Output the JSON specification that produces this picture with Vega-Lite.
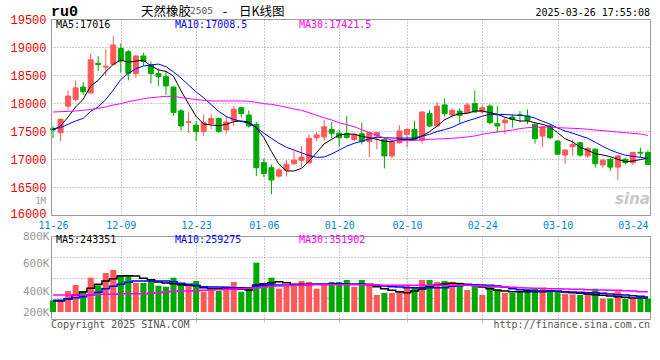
{
"$schema": "https://vega.github.io/schema/vega-lite/v6.json",
"background": "white",
"padding": {"left": 9, "top": 3, "right": 6, "bottom": 2},
"bounds": "flush",
"spacing": 21,
"config": {"view": {"stroke": "#999999", "strokeWidth": 1}, "text": {"font": "DejaVu Sans Mono"}, "axis": {"labelOverlap": false}, "axisY": {"labelOverlap": false}, "axisQuantitative": {"labelOverlap": false}},
"data": {"values": [
{"d":"11-26","o":17540,"h":17590,"l":17370,"c":17520,"v":204000,"m5":17518,"m10":17542,"m30":17839,"v5":191000,"v10":203000,"v30":296000},
{"d":"11-27","o":17470,"h":17725,"l":17320,"c":17710,"v":191000,"m5":17589,"m10":17560,"m30":17845,"v5":191000,"v10":203000,"v30":296000},
{"d":"11-28","o":17945,"h":18225,"l":17870,"c":18125,"v":365000,"m5":17750,"m10":17619,"m30":17851,"v5":232000,"v10":226000,"v30":296000},
{"d":"11-29","o":18065,"h":18405,"l":18025,"c":18270,"v":470000,"m5":17929,"m10":17679,"m30":17857,"v5":290000,"v10":249000,"v30":296000},
{"d":"12-02","o":18285,"h":18375,"l":18145,"c":18200,"v":365000,"m5":18066,"m10":17726,"m30":17869,"v5":348000,"v10":267000,"v30":296000},
{"d":"12-03","o":18180,"h":18880,"l":18165,"c":18770,"v":597000,"m5":18304,"m10":17850,"m30":17887,"v5":412000,"v10":302000,"v30":296000},
{"d":"12-04","o":18710,"h":18840,"l":18570,"c":18685,"v":465000,"m5":18405,"m10":17930,"m30":17905,"v5":481000,"v10":342000,"v30":307000},
{"d":"12-05","o":18640,"h":18960,"l":18495,"c":18655,"v":679000,"m5":18560,"m10":18060,"m30":17929,"v5":539000,"v10":406000,"v30":307000},
{"d":"12-06","o":18690,"h":19195,"l":18675,"c":19035,"v":731000,"m5":18690,"m10":18230,"m30":17964,"v5":580000,"v10":447000,"v30":307000},
{"d":"12-09","o":18975,"h":19060,"l":18540,"c":18750,"v":644000,"m5":18770,"m10":18420,"m30":17988,"v5":626000,"v10":481000,"v30":319000},
{"d":"12-10","o":18915,"h":18945,"l":18405,"c":18530,"v":644000,"m5":18725,"m10":18530,"m30":18024,"v5":632000,"v10":516000,"v30":319000},
{"d":"12-11","o":18525,"h":18855,"l":18450,"c":18840,"v":505000,"m5":18750,"m10":18610,"m30":18048,"v5":626000,"v10":539000,"v30":319000},
{"d":"12-12","o":18840,"h":18900,"l":18660,"c":18740,"v":505000,"m5":18762,"m10":18660,"m30":18077,"v5":586000,"v10":539000,"v30":319000},
{"d":"12-13","o":18675,"h":18740,"l":18345,"c":18525,"v":552000,"m5":18665,"m10":18680,"m30":18095,"v5":563000,"v10":539000,"v30":325000},
{"d":"12-16","o":18525,"h":18620,"l":18305,"c":18470,"v":458000,"m5":18590,"m10":18695,"m30":18107,"v5":522000,"v10":539000,"v30":336000},
{"d":"12-17","o":18470,"h":18570,"l":18145,"c":18305,"v":440000,"m5":18565,"m10":18650,"m30":18119,"v5":505000,"v10":539000,"v30":348000},
{"d":"12-18","o":18285,"h":18300,"l":17770,"c":17830,"v":597000,"m5":18480,"m10":18555,"m30":18119,"v5":493000,"v10":528000,"v30":360000},
{"d":"12-19","o":17860,"h":17890,"l":17510,"c":17590,"v":482000,"m5":18215,"m10":18445,"m30":18095,"v5":476000,"v10":499000,"v30":365000},
{"d":"12-20","o":17655,"h":17830,"l":17470,"c":17665,"v":482000,"m5":17985,"m10":18320,"m30":18080,"v5":464000,"v10":481000,"v30":365000},
{"d":"12-23","o":17605,"h":17680,"l":17320,"c":17490,"v":539000,"m5":17760,"m10":18198,"m30":18060,"v5":458000,"v10":464000,"v30":371000},
{"d":"12-24","o":17490,"h":17800,"l":17410,"c":17650,"v":353000,"m5":17625,"m10":18095,"m30":18048,"v5":423000,"v10":441000,"v30":377000},
{"d":"12-25","o":17630,"h":17800,"l":17530,"c":17725,"v":412000,"m5":17607,"m10":17970,"m30":18036,"v5":406000,"v10":435000,"v30":383000},
{"d":"12-26","o":17725,"h":17740,"l":17470,"c":17490,"v":365000,"m5":17595,"m10":17850,"m30":18036,"v5":406000,"v10":435000,"v30":389000},
{"d":"12-27","o":17520,"h":17770,"l":17450,"c":17660,"v":440000,"m5":17619,"m10":17760,"m30":18036,"v5":412000,"v10":429000,"v30":394000},
{"d":"12-30","o":17680,"h":17945,"l":17590,"c":17890,"v":522000,"m5":17666,"m10":17705,"m30":18036,"v5":406000,"v10":423000,"v30":400000},
{"d":"12-31","o":17915,"h":17930,"l":17740,"c":17810,"v":353000,"m5":17679,"m10":17672,"m30":18036,"v5":394000,"v10":423000,"v30":406000},
{"d":"01-02","o":17785,"h":17870,"l":17560,"c":17590,"v":395000,"m5":17660,"m10":17635,"m30":18030,"v5":383000,"v10":423000,"v30":412000},
{"d":"01-03","o":17620,"h":17660,"l":16695,"c":16845,"v":858000,"m5":17559,"m10":17560,"m30":18012,"v5":470000,"v10":452000,"v30":423000},
{"d":"01-06","o":16935,"h":17010,"l":16680,"c":16740,"v":499000,"m5":17381,"m10":17460,"m30":17988,"v5":493000,"v10":464000,"v30":435000},
{"d":"01-07","o":16845,"h":16905,"l":16370,"c":16625,"v":597000,"m5":17135,"m10":17370,"m30":17976,"v5":510000,"v10":470000,"v30":447000},
{"d":"01-08","o":16695,"h":16845,"l":16665,"c":16805,"v":405000,"m5":16905,"m10":17280,"m30":17952,"v5":528000,"v10":470000,"v30":452000},
{"d":"01-09","o":16800,"h":16980,"l":16685,"c":16905,"v":482000,"m5":16786,"m10":17210,"m30":17923,"v5":510000,"v10":464000,"v30":458000},
{"d":"01-10","o":16915,"h":17145,"l":16895,"c":16980,"v":482000,"m5":16786,"m10":17160,"m30":17893,"v5":481000,"v10":464000,"v30":464000},
{"d":"01-13","o":16975,"h":17230,"l":16845,"c":17035,"v":539000,"m5":16833,"m10":17110,"m30":17869,"v5":481000,"v10":470000,"v30":470000},
{"d":"01-14","o":16935,"h":17440,"l":16905,"c":17370,"v":522000,"m5":16964,"m10":17060,"m30":17827,"v5":481000,"v10":476000,"v30":476000},
{"d":"01-15","o":17380,"h":17480,"l":17320,"c":17430,"v":405000,"m5":17113,"m10":17030,"m30":17780,"v5":481000,"v10":481000,"v30":476000},
{"d":"01-16","o":17395,"h":17695,"l":17320,"c":17575,"v":482000,"m5":17270,"m10":17035,"m30":17738,"v5":481000,"v10":481000,"v30":476000},
{"d":"01-17","o":17530,"h":17660,"l":17370,"c":17460,"v":522000,"m5":17351,"m10":17090,"m30":17696,"v5":481000,"v10":487000,"v30":476000},
{"d":"01-20","o":17460,"h":17520,"l":17220,"c":17380,"v":522000,"m5":17429,"m10":17160,"m30":17648,"v5":481000,"v10":493000,"v30":476000},
{"d":"01-21","o":17450,"h":17770,"l":17360,"c":17385,"v":557000,"m5":17449,"m10":17230,"m30":17613,"v5":481000,"v10":481000,"v30":476000},
{"d":"01-22","o":17350,"h":17460,"l":17320,"c":17440,"v":435000,"m5":17441,"m10":17280,"m30":17577,"v5":481000,"v10":481000,"v30":476000},
{"d":"01-23","o":17450,"h":17650,"l":17260,"c":17310,"v":557000,"m5":17405,"m10":17320,"m30":17524,"v5":481000,"v10":481000,"v30":476000},
{"d":"01-24","o":17310,"h":17480,"l":17035,"c":17470,"v":481000,"m5":17381,"m10":17360,"m30":17470,"v5":481000,"v10":476000,"v30":476000},
{"d":"01-27","o":17410,"h":17480,"l":17175,"c":17470,"v":296000,"m5":17351,"m10":17390,"m30":17423,"v5":441000,"v10":464000,"v30":470000},
{"d":"02-05","o":17350,"h":17380,"l":16830,"c":17055,"v":331000,"m5":17315,"m10":17380,"m30":17375,"v5":406000,"v10":452000,"v30":464000},
{"d":"02-06","o":17055,"h":17335,"l":17010,"c":17310,"v":331000,"m5":17315,"m10":17375,"m30":17339,"v5":377000,"v10":441000,"v30":464000},
{"d":"02-07","o":17290,"h":17600,"l":17275,"c":17500,"v":365000,"m5":17345,"m10":17372,"m30":17327,"v5":354000,"v10":435000,"v30":464000},
{"d":"02-10","o":17440,"h":17540,"l":17205,"c":17530,"v":452000,"m5":17351,"m10":17375,"m30":17327,"v5":336000,"v10":423000,"v30":464000},
{"d":"02-11","o":17530,"h":17680,"l":17335,"c":17350,"v":423000,"m5":17351,"m10":17375,"m30":17333,"v5":365000,"v10":423000,"v30":464000},
{"d":"02-12","o":17340,"h":17845,"l":17275,"c":17840,"v":557000,"m5":17411,"m10":17410,"m30":17339,"v5":400000,"v10":423000,"v30":464000},
{"d":"02-13","o":17810,"h":17875,"l":17570,"c":17590,"v":557000,"m5":17488,"m10":17440,"m30":17351,"v5":441000,"v10":423000,"v30":464000},
{"d":"02-14","o":17590,"h":18020,"l":17570,"c":17945,"v":522000,"m5":17589,"m10":17490,"m30":17357,"v5":470000,"v10":423000,"v30":464000},
{"d":"02-17","o":17965,"h":18085,"l":17755,"c":17810,"v":539000,"m5":17700,"m10":17525,"m30":17363,"v5":487000,"v10":423000,"v30":464000},
{"d":"02-18","o":17785,"h":17905,"l":17740,"c":17870,"v":522000,"m5":17768,"m10":17565,"m30":17369,"v5":499000,"v10":447000,"v30":464000},
{"d":"02-19","o":17855,"h":17905,"l":17620,"c":17780,"v":510000,"m5":17810,"m10":17630,"m30":17381,"v5":493000,"v10":458000,"v30":464000},
{"d":"02-20","o":17825,"h":18005,"l":17810,"c":17965,"v":383000,"m5":17815,"m10":17680,"m30":17393,"v5":481000,"v10":464000,"v30":464000},
{"d":"02-21","o":17990,"h":18225,"l":17825,"c":17840,"v":481000,"m5":17857,"m10":17720,"m30":17411,"v5":464000,"v10":476000,"v30":458000},
{"d":"02-24","o":17840,"h":17960,"l":17810,"c":17915,"v":296000,"m5":17857,"m10":17765,"m30":17441,"v5":435000,"v10":470000,"v30":452000},
{"d":"02-25","o":17945,"h":17975,"l":17620,"c":17650,"v":464000,"m5":17827,"m10":17800,"m30":17464,"v5":406000,"v10":464000,"v30":447000},
{"d":"02-26","o":17630,"h":17945,"l":17480,"c":17590,"v":394000,"m5":17800,"m10":17790,"m30":17482,"v5":377000,"v10":452000,"v30":435000},
{"d":"02-27","o":17645,"h":17735,"l":17440,"c":17695,"v":331000,"m5":17745,"m10":17795,"m30":17497,"v5":365000,"v10":429000,"v30":435000},
{"d":"02-28","o":17750,"h":17800,"l":17560,"c":17710,"v":331000,"m5":17708,"m10":17785,"m30":17518,"v5":354000,"v10":406000,"v30":429000},
{"d":"03-03","o":17790,"h":17855,"l":17650,"c":17780,"v":365000,"m5":17679,"m10":17780,"m30":17542,"v5":354000,"v10":389000,"v30":423000},
{"d":"03-04","o":17770,"h":17885,"l":17620,"c":17690,"v":394000,"m5":17679,"m10":17765,"m30":17559,"v5":354000,"v10":377000,"v30":418000},
{"d":"03-05","o":17620,"h":17630,"l":17275,"c":17365,"v":406000,"m5":17648,"m10":17730,"m30":17565,"v5":354000,"v10":365000,"v30":412000},
{"d":"03-06","o":17410,"h":17590,"l":17215,"c":17570,"v":406000,"m5":17619,"m10":17672,"m30":17571,"v5":354000,"v10":365000,"v30":412000},
{"d":"03-07","o":17590,"h":17620,"l":17350,"c":17380,"v":365000,"m5":17575,"m10":17625,"m30":17571,"v5":365000,"v10":365000,"v30":406000},
{"d":"03-10","o":17320,"h":17335,"l":17080,"c":17085,"v":365000,"m5":17470,"m10":17555,"m30":17559,"v5":360000,"v10":360000,"v30":406000},
{"d":"03-11","o":17070,"h":17175,"l":16915,"c":17160,"v":319000,"m5":17360,"m10":17500,"m30":17554,"v5":348000,"v10":354000,"v30":400000},
{"d":"03-12","o":17220,"h":17350,"l":17055,"c":17260,"v":307000,"m5":17305,"m10":17462,"m30":17548,"v5":336000,"v10":348000,"v30":394000},
{"d":"03-13","o":17290,"h":17300,"l":17040,"c":17070,"v":296000,"m5":17210,"m10":17415,"m30":17542,"v5":325000,"v10":342000,"v30":394000},
{"d":"03-14","o":17055,"h":17215,"l":17025,"c":17190,"v":319000,"m5":17155,"m10":17370,"m30":17530,"v5":313000,"v10":336000,"v30":389000},
{"d":"03-17","o":17175,"h":17190,"l":16845,"c":16915,"v":406000,"m5":17095,"m10":17300,"m30":17518,"v5":302000,"v10":336000,"v30":383000},
{"d":"03-18","o":16895,"h":16995,"l":16845,"c":16980,"v":235000,"m5":17071,"m10":17225,"m30":17506,"v5":290000,"v10":325000,"v30":383000},
{"d":"03-19","o":16995,"h":17025,"l":16785,"c":16855,"v":235000,"m5":17042,"m10":17160,"m30":17494,"v5":278000,"v10":313000,"v30":377000},
{"d":"03-20","o":16855,"h":17060,"l":16625,"c":17055,"v":360000,"m5":16994,"m10":17110,"m30":17482,"v5":267000,"v10":302000,"v30":377000},
{"d":"03-21","o":16995,"h":17025,"l":16905,"c":16935,"v":230000,"m5":16952,"m10":17068,"m30":17470,"v5":255000,"v10":296000,"v30":371000},
{"d":"03-24","o":16935,"h":17120,"l":16895,"c":17115,"v":230000,"m5":16964,"m10":17048,"m30":17458,"v5":244000,"v10":284000,"v30":365000},
{"d":"03-25","o":17120,"h":17205,"l":17025,"c":17105,"v":230000,"m5":16990,"m10":17030,"m30":17446,"v5":244000,"v10":273000,"v30":354000},
{"d":"03-26","o":17115,"h":17155,"l":16895,"c":16905,"v":230000,"m5":17016,"m10":17008.5,"m30":17421.5,"v5":243351,"v10":259275,"v30":351902}
]},
"vconcat": [
{
"width": 599, "height": 196,
"encoding": {"x": {"field": "d", "type": "ordinal", "sort": null, "title": null,
  "scale": {"type": "point", "padding": 0.27, "domain": ["11-26","11-27","11-28","11-29","12-02","12-03","12-04","12-05","12-06","12-09","12-10","12-11","12-12","12-13","12-16","12-17","12-18","12-19","12-20","12-23","12-24","12-25","12-26","12-27","12-30","12-31","01-02","01-03","01-06","01-07","01-08","01-09","01-10","01-13","01-14","01-15","01-16","01-17","01-20","01-21","01-22","01-23","01-24","01-27","02-05","02-06","02-07","02-10","02-11","02-12","02-13","02-14","02-17","02-18","02-19","02-20","02-21","02-24","02-25","02-26","02-27","02-28","03-03","03-04","03-05","03-06","03-07","03-10","03-11","03-12","03-13","03-14","03-17","03-18","03-19","03-20","03-21","03-24","03-25","03-26"]},
  "axis": {"values": ["11-26","12-09","12-23","01-06","01-20","02-10","02-24","03-10","03-24"], "grid": true, "gridColor": "#999999", "gridDash": [1,2],
    "gridOpacity": {"condition": {"test": "datum.value === '11-26' || datum.value === '03-24'", "value": 0}, "value": 1},
    "domain": false, "ticks": false, "labelAngle": 0, "labelColor": "#0088CC", "labelFont": "DejaVu Sans Mono", "labelFontSize": 10, "labelPadding": 5, "labelOverlap": false, "title": null}}},
"layer": [
 {"mark": {"type": "rule", "strokeWidth": 1},
  "encoding": {"y": {"field": "l", "type": "quantitative", "title": null, "scale": {"domain": [16000, 19500], "zero": false, "nice": false},
     "axis": {"values": [16000,16500,17000,17500,18000,18500,19000,19500], "tickCount": 8, "format": "d", "labelOverlap": false, "grid": true, "gridColor": "#999999", "gridDash": [1,2], "domain": false, "ticks": false, "labelColor": "#EE0000", "labelFont": "Liberation Mono", "labelFontSize": 12, "labelPadding": 5, "title": null,
       "labelOffset": {"condition": {"test": "datum.value === 16000", "value": -2}, "value": 0}}},
   "y2": {"field": "h"},
   "color": {"condition": {"test": "datum.c > datum.o", "value": "#FF5858"}, "value": "#00A800"}}},
 {"mark": {"type": "bar", "width": 5, "strokeWidth": 1},
  "encoding": {"y": {"field": "o", "type": "quantitative", "title": null, "scale": {"domain": [16000, 19500], "zero": false, "nice": false}},
   "y2": {"field": "c"},
   "color": {"condition": {"test": "datum.c > datum.o", "value": "#FF5858"}, "value": "#00A800"},
   "stroke": {"condition": {"test": "datum.c > datum.o", "value": "#FF5858"}, "value": "#00A800"}}},
 {"mark": {"type": "line", "color": "#000000", "strokeWidth": 1},
  "encoding": {"y": {"field": "m5", "type": "quantitative", "title": null, "scale": {"domain": [16000, 19500], "zero": false, "nice": false}}}},
 {"mark": {"type": "line", "color": "#0000FF", "strokeWidth": 1},
  "encoding": {"y": {"field": "m10", "type": "quantitative", "title": null, "scale": {"domain": [16000, 19500], "zero": false, "nice": false}}}},
 {"mark": {"type": "line", "color": "#FF00FF", "strokeWidth": 1},
  "encoding": {"y": {"field": "m30", "type": "quantitative", "title": null, "scale": {"domain": [16000, 19500], "zero": false, "nice": false}}}},
 {"data": {"values": [{"t": "ru0"}]},
  "mark": {"type": "text", "align": "left", "baseline": "alphabetic", "font": "Liberation Mono", "fontSize": 15, "fontWeight": "bold", "color": "#000000", "dx": -2},
  "encoding": {"x": {"datum": "11-26", "type": "ordinal"}, "y": {"datum": 19560, "type": "quantitative", "scale": {"domain": [16000, 19500], "zero": false, "nice": false}}, "text": {"field": "t"}}},
 {"data": {"values": [{"t": "天然橡胶"}]},
  "mark": {"type": "text", "align": "left", "baseline": "alphabetic", "font": "Noto Sans CJK SC", "fontSize": 12.5, "color": "#000000", "dx": 88},
  "encoding": {"x": {"datum": "11-26", "type": "ordinal"}, "y": {"datum": 19545, "type": "quantitative", "scale": {"domain": [16000, 19500], "zero": false, "nice": false}}, "text": {"field": "t"}}},
 {"data": {"values": [{"t": "2505"}]},
  "mark": {"type": "text", "align": "left", "baseline": "alphabetic", "font": "DejaVu Sans Mono", "fontSize": 9.5, "color": "#555555", "dx": 137},
  "encoding": {"x": {"datum": "11-26", "type": "ordinal"}, "y": {"datum": 19595, "type": "quantitative", "scale": {"domain": [16000, 19500], "zero": false, "nice": false}}, "text": {"field": "t"}}},
 {"data": {"values": [{"t": "-"}]},
  "mark": {"type": "text", "align": "left", "baseline": "alphabetic", "font": "DejaVu Sans Mono", "fontSize": 13, "color": "#000000", "dx": 168},
  "encoding": {"x": {"datum": "11-26", "type": "ordinal"}, "y": {"datum": 19560, "type": "quantitative", "scale": {"domain": [16000, 19500], "zero": false, "nice": false}}, "text": {"field": "t"}}},
 {"data": {"values": [{"t": "日K线图"}]},
  "mark": {"type": "text", "align": "left", "baseline": "alphabetic", "font": "Noto Sans CJK SC", "fontSize": 12.5, "color": "#000000", "dx": 186},
  "encoding": {"x": {"datum": "11-26", "type": "ordinal"}, "y": {"datum": 19545, "type": "quantitative", "scale": {"domain": [16000, 19500], "zero": false, "nice": false}}, "text": {"field": "t"}}},
 {"data": {"values": [{"t": "2025-03-26 17:55:08"}]},
  "mark": {"type": "text", "align": "right", "baseline": "alphabetic", "font": "DejaVu Sans Mono", "fontSize": 10, "color": "#000000", "dx": 2},
  "encoding": {"x": {"datum": "03-26", "type": "ordinal"}, "y": {"datum": 19554, "type": "quantitative", "scale": {"domain": [16000, 19500], "zero": false, "nice": false}}, "text": {"field": "t"}}},
 {"data": {"values": [{"t": "MA5:17016"}]},
  "mark": {"type": "text", "align": "left", "baseline": "middle", "font": "DejaVu Sans Mono", "fontSize": 10, "color": "#000000", "dx": 3},
  "encoding": {"x": {"datum": "11-26", "type": "ordinal"}, "y": {"datum": 19385, "type": "quantitative", "scale": {"domain": [16000, 19500], "zero": false, "nice": false}}, "text": {"field": "t"}}},
 {"data": {"values": [{"t": "MA10:17008.5"}]},
  "mark": {"type": "text", "align": "left", "baseline": "middle", "font": "DejaVu Sans Mono", "fontSize": 10, "color": "#0000FF", "dx": 122},
  "encoding": {"x": {"datum": "11-26", "type": "ordinal"}, "y": {"datum": 19385, "type": "quantitative", "scale": {"domain": [16000, 19500], "zero": false, "nice": false}}, "text": {"field": "t"}}},
 {"data": {"values": [{"t": "MA30:17421.5"}]},
  "mark": {"type": "text", "align": "left", "baseline": "middle", "font": "DejaVu Sans Mono", "fontSize": 10, "color": "#FF00FF", "dx": 246},
  "encoding": {"x": {"datum": "11-26", "type": "ordinal"}, "y": {"datum": 19385, "type": "quantitative", "scale": {"domain": [16000, 19500], "zero": false, "nice": false}}, "text": {"field": "t"}}},
 {"data": {"values": [{"t": "1M"}]},
  "mark": {"type": "text", "align": "right", "baseline": "middle", "font": "DejaVu Sans Mono", "fontSize": 9, "color": "#999999", "dx": -7},
  "encoding": {"x": {"datum": "11-26", "type": "ordinal"}, "y": {"datum": 16250, "type": "quantitative", "scale": {"domain": [16000, 19500], "zero": false, "nice": false}}, "text": {"field": "t"}}},
 {"data": {"values": [{"t": "sina"}]},
  "mark": {"type": "text", "align": "right", "baseline": "alphabetic", "font": "DejaVu Sans", "fontSize": 15, "fontWeight": "bold", "fontStyle": "italic", "color": "#C8C8C8", "dx": 2},
  "encoding": {"x": {"datum": "03-26", "type": "ordinal"}, "y": {"datum": 16190, "type": "quantitative", "scale": {"domain": [16000, 19500], "zero": false, "nice": false}}, "text": {"field": "t"}}}
]
},
{
"width": 599, "height": 83,
"layer": [
 {
 "encoding": {"x": {"field": "d", "type": "ordinal", "sort": null, "title": null,
  "scale": {"type": "point", "padding": 0.27, "domain": ["11-26","11-27","11-28","11-29","12-02","12-03","12-04","12-05","12-06","12-09","12-10","12-11","12-12","12-13","12-16","12-17","12-18","12-19","12-20","12-23","12-24","12-25","12-26","12-27","12-30","12-31","01-02","01-03","01-06","01-07","01-08","01-09","01-10","01-13","01-14","01-15","01-16","01-17","01-20","01-21","01-22","01-23","01-24","01-27","02-05","02-06","02-07","02-10","02-11","02-12","02-13","02-14","02-17","02-18","02-19","02-20","02-21","02-24","02-25","02-26","02-27","02-28","03-03","03-04","03-05","03-06","03-07","03-10","03-11","03-12","03-13","03-14","03-17","03-18","03-19","03-20","03-21","03-24","03-25","03-26"]},
  "axis": {"values": ["11-26","12-09","12-23","01-06","01-20","02-10","02-24","03-10","03-24"], "labels": false, "grid": true, "gridColor": "#999999", "gridDash": [1,2],
    "gridOpacity": {"condition": {"test": "datum.value === '11-26' || datum.value === '03-24'", "value": 0}, "value": 1},
    "domain": false, "ticks": true, "tickSize": 3, "tickColor": "#999999", "tickDash": [1,1],
    "tickOpacity": {"condition": {"test": "datum.value === '11-26' || datum.value === '03-24'", "value": 0}, "value": 1}, "title": null}}},
 "layer": [
  {"mark": {"type": "bar", "width": 6},
   "encoding": {"y": {"field": "v", "type": "quantitative", "title": null, "scale": {"domain": [-121800, 1322400], "zero": false, "nice": false},
      "axis": {"values": [239250, 600300, 961350], "labels": false, "ticks": false, "domain": false, "grid": true, "gridColor": "#999999", "gridDash": [1,2], "title": null}},
    "y2": {"datum": 0},
    "color": {"condition": {"test": "datum.c > datum.o", "value": "#FF5858"}, "value": "#00A800"}}},
  {"mark": {"type": "line", "interpolate": "step", "color": "#000000", "strokeWidth": 1.5},
   "encoding": {"y": {"field": "v5", "type": "quantitative", "title": null, "scale": {"domain": [-121800, 1322400], "zero": false, "nice": false}}}},
  {"mark": {"type": "line", "interpolate": "step", "color": "#0000FF", "strokeWidth": 1.5},
   "encoding": {"y": {"field": "v10", "type": "quantitative", "title": null, "scale": {"domain": [-121800, 1322400], "zero": false, "nice": false}}}},
  {"mark": {"type": "line", "interpolate": "step", "color": "#FF00FF", "strokeWidth": 1.5},
   "encoding": {"y": {"field": "v30", "type": "quantitative", "title": null, "scale": {"domain": [-121800, 1322400], "zero": false, "nice": false}}}},
  {"data": {"values": [{"t": "MA5:243351"}]},
   "mark": {"type": "text", "align": "left", "baseline": "middle", "font": "DejaVu Sans Mono", "fontSize": 10, "color": "#000000", "dx": 3},
   "encoding": {"x": {"datum": "11-26", "type": "ordinal"}, "y": {"datum": 1261500, "type": "quantitative", "scale": {"domain": [-121800, 1322400], "zero": false, "nice": false}}, "text": {"field": "t"}}},
  {"data": {"values": [{"t": "MA10:259275"}]},
   "mark": {"type": "text", "align": "left", "baseline": "middle", "font": "DejaVu Sans Mono", "fontSize": 10, "color": "#0000FF", "dx": 122},
   "encoding": {"x": {"datum": "11-26", "type": "ordinal"}, "y": {"datum": 1261500, "type": "quantitative", "scale": {"domain": [-121800, 1322400], "zero": false, "nice": false}}, "text": {"field": "t"}}},
  {"data": {"values": [{"t": "MA30:351902"}]},
   "mark": {"type": "text", "align": "left", "baseline": "middle", "font": "DejaVu Sans Mono", "fontSize": 10, "color": "#FF00FF", "dx": 246},
   "encoding": {"x": {"datum": "11-26", "type": "ordinal"}, "y": {"datum": 1261500, "type": "quantitative", "scale": {"domain": [-121800, 1322400], "zero": false, "nice": false}}, "text": {"field": "t"}}},
  {"data": {"values": [{"t": "Copyright 2025 SINA.COM"}]},
   "mark": {"type": "text", "align": "left", "baseline": "alphabetic", "font": "DejaVu Sans Mono", "fontSize": 10, "color": "#555555", "dx": -2},
   "encoding": {"x": {"datum": "11-26", "type": "ordinal"}, "y": {"datum": -278400, "type": "quantitative", "scale": {"domain": [-121800, 1322400], "zero": false, "nice": false}}, "text": {"field": "t"}}},
  {"data": {"values": [{"t": "http://finance.sina.com.cn"}]},
   "mark": {"type": "text", "align": "right", "baseline": "alphabetic", "font": "DejaVu Sans Mono", "fontSize": 10, "color": "#555555", "dx": 2},
   "encoding": {"x": {"datum": "03-26", "type": "ordinal"}, "y": {"datum": -278400, "type": "quantitative", "scale": {"domain": [-121800, 1322400], "zero": false, "nice": false}}, "text": {"field": "t"}}}
 ]
 },
 {"data": {"values": [{}]},
  "mark": {"type": "rule", "opacity": 0},
  "encoding": {"y": {"datum": 500000, "type": "quantitative", "scale": {"domain": [200000, 800000], "zero": false, "nice": false},
    "axis": {"orient": "left", "values": [200000, 400000, 600000, 800000], "labelExpr": "format(datum.value / 1000, 'd') + 'K'", "labelColor": "#999999", "labelFont": "DejaVu Sans Mono", "labelFontSize": 11, "labelPadding": 2, "grid": false, "ticks": false, "domain": false, "title": null,
      "labelOffset": {"condition": {"test": "datum.value === 200000", "value": -7}, "value": 0}}}}}
],
"resolve": {"scale": {"y": "independent"}, "axis": {"y": "independent"}}
}
]
}
